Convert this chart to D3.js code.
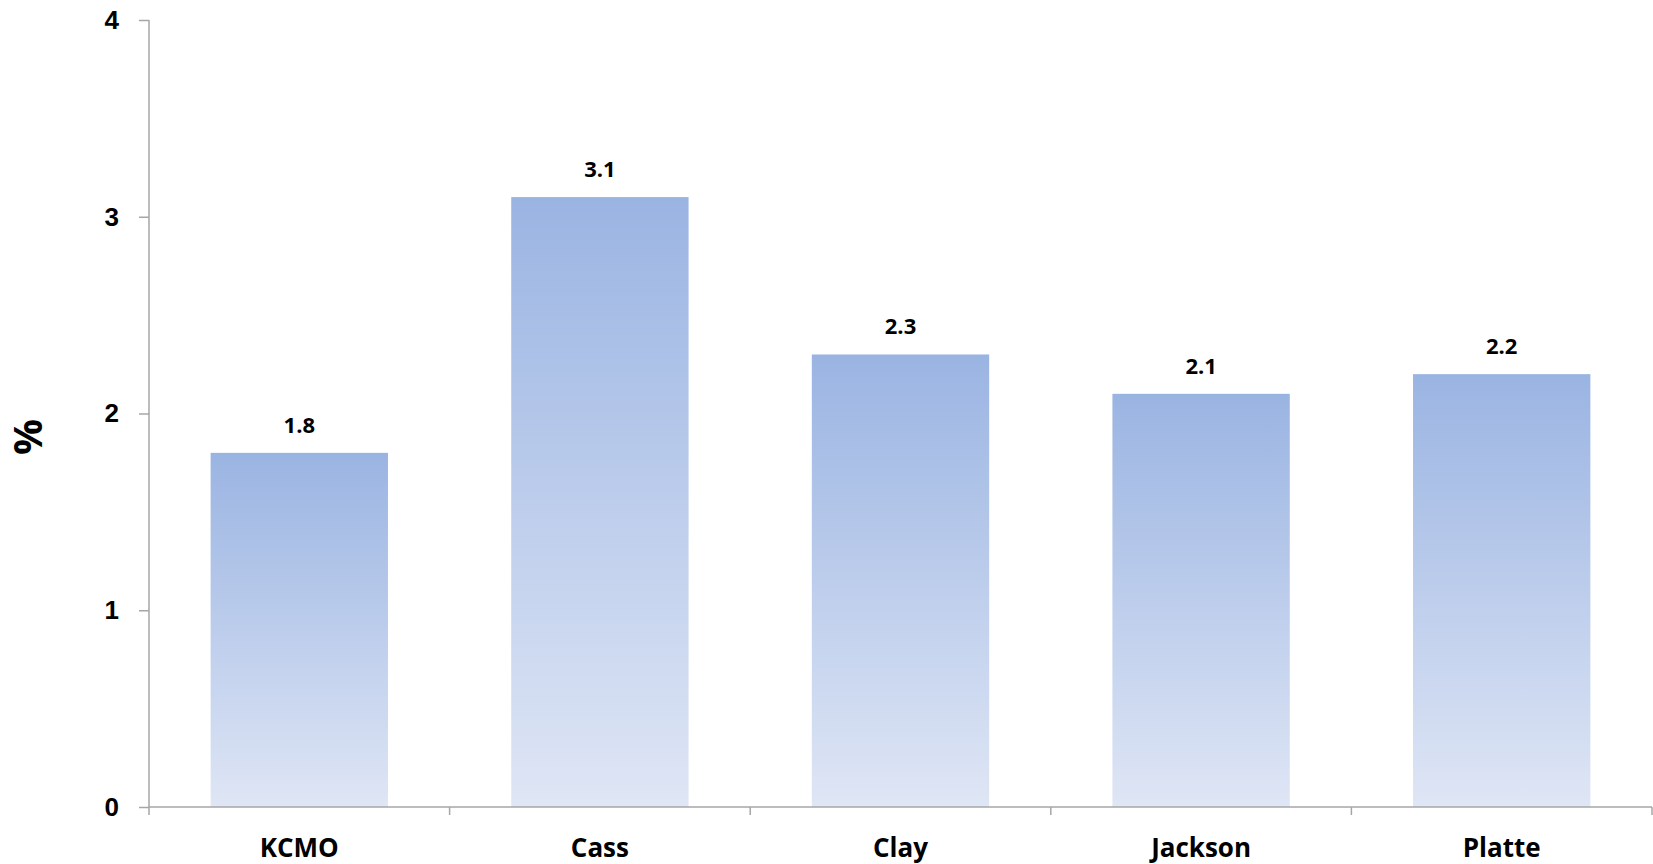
<!DOCTYPE html>
<html>
<head>
    <meta charset="utf-8">
    <style>
        body { margin: 0; background: #fff; }
        svg { display: block; font-family: "Open Sans", sans-serif; }
        .axis path, .axis line { stroke: #a6a6a6; stroke-width: 1.5px; }
        .axis text { font-size: 26px; font-weight: 700; fill: #000; }
        .value-label { font-size: 22px; font-weight: 700; fill: #000; }
    </style>
</head>
<body>
    <div class="viz"></div>
    <script src="https://cdnjs.cloudflare.com/ajax/libs/d3/7.8.5/d3.min.js"></script>
    <script>
        var categories = ["KCMO", "Cass", "Clay", "Jackson", "Platte"];
        var values = [1.8, 3.1, 2.3, 2.1, 2.2];
        var yTicks = [0, 1, 2, 3, 4];

        var width = 1653, height = 864;
        var margin = { top: 20, right: 1, bottom: 57, left: 149 };

        var svg = d3.select('.viz').append('svg')
            .attr('width', width)
            .attr('height', height);

        var grad = svg.append('defs').append('linearGradient')
            .attr('id', 'barFill')
            .attr('x1', 0).attr('y1', 0)
            .attr('x2', 0).attr('y2', 1);
        grad.append('stop').attr('offset', '0%').attr('stop-color', '#9ab4e2');
        grad.append('stop').attr('offset', '100%').attr('stop-color', '#dfe6f5');

        var x = d3.scaleBand()
            .domain(categories)
            .range([margin.left, width - margin.right])
            .paddingInner(0.41)
            .paddingOuter(0.205);

        var y = d3.scaleLinear()
            .domain([0, 4])
            .range([height - margin.bottom, margin.top]);

        // bars
        svg.append('g')
            .selectAll('rect')
            .data(values)
            .enter().append('rect')
            .attr('x', function (d, i) { return x(categories[i]); })
            .attr('y', function (d) { return y(d); })
            .attr('width', x.bandwidth())
            .attr('height', function (d) { return y(0) - y(d); })
            .attr('fill', 'url(#barFill)');

        // value labels
        svg.append('g')
            .selectAll('text')
            .data(values)
            .enter().append('text')
            .attr('class', 'value-label')
            .attr('text-anchor', 'middle')
            .attr('x', function (d, i) { return x(categories[i]) + x.bandwidth() / 2; })
            .attr('y', function (d) { return y(d) - 20; })
            .text(function (d) { return d3.format('.1f')(d); });

        // y axis
        var yAxis = svg.append('g')
            .attr('class', 'axis')
            .attr('transform', 'translate(' + margin.left + ',0)')
            .call(d3.axisLeft(y).tickValues(yTicks).tickSize(10).tickPadding(20).tickFormat(d3.format('d')));
        yAxis.select('.domain').attr('d', 'M0,' + y(4) + 'V' + y(0));

        // x axis: line plus ticks at category boundaries
        var xAxis = svg.append('g').attr('class', 'axis');
        xAxis.append('line')
            .attr('x1', margin.left).attr('x2', width - margin.right)
            .attr('y1', y(0)).attr('y2', y(0));
        var bounds = categories.map(function (c) { return x(c) - x.step() * x.paddingInner() / 2; });
        bounds.push(width - margin.right);
        xAxis.selectAll('.xtick')
            .data(bounds)
            .enter().append('line')
            .attr('class', 'xtick')
            .attr('x1', function (d) { return d; }).attr('x2', function (d) { return d; })
            .attr('y1', y(0)).attr('y2', y(0) + 8);
        xAxis.selectAll('.xlabel')
            .data(categories)
            .enter().append('text')
            .attr('class', 'xlabel')
            .attr('text-anchor', 'middle')
            .attr('x', function (d) { return x(d) + x.bandwidth() / 2; })
            .attr('y', height - 7)
            .text(function (d) { return d; });

        // y axis title
        svg.append('text')
            .attr('transform', 'translate(42,437) rotate(-90)')
            .attr('text-anchor', 'middle')
            .attr('font-size', '40px')
            .attr('font-weight', 700)
            .text('%');
    </script>
</body>
</html>
